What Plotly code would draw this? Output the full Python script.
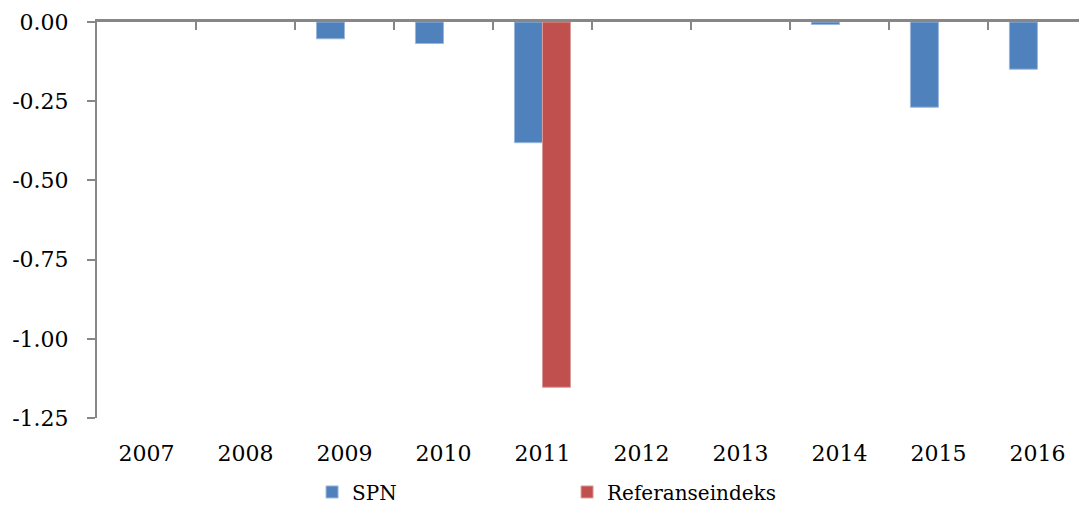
import plotly.graph_objects as go

years = ["2007", "2008", "2009", "2010", "2011", "2012", "2013", "2014", "2015", "2016"]
spn = [None, None, -0.053, -0.068, -0.381, None, None, -0.008, -0.269, -0.149]
ref = [None, None, None, None, -1.153, None, None, None, None, None]
ytick_vals = [0, -0.25, -0.5, -0.75, -1.0, -1.25]
ytick_text = ["0.00", "-0.25", "-0.50", "-0.75", "-1.00", "-1.25"]

FONT = "DejaVu Serif"
GRAY = "#878787"

fig = go.Figure()
fig.add_trace(go.Bar(x=years, y=spn, name="SPN",
                     marker=dict(color="#4F81BD", line=dict(color="#9BB7DA", width=1))))
fig.add_trace(go.Bar(x=years, y=ref, name="Referanseindeks",
                     marker=dict(color="#C0504D", line=dict(color="#DA9C9A", width=1))))
# helper trace for the top category axis (line at zero with boundary ticks)
fig.add_trace(go.Bar(x=years, y=[None] * len(years), xaxis="x2", showlegend=False,
                     hoverinfo="skip"))

fig.update_layout(
    width=1079, height=512,
    margin=dict(l=97, r=0, t=22, b=94, autoexpand=False),
    paper_bgcolor="white", plot_bgcolor="white",
    font=dict(family=FONT, color="#000000", size=22),
    barmode="group", bargap=0.434, bargroupgap=0,
    xaxis=dict(type="category", categoryarray=years, range=[-0.5, 9.42],
               showline=False, showgrid=False, zeroline=False, ticks="",
               tickfont=dict(size=22), ticklabelstandoff=20, automargin=False),
    xaxis2=dict(type="category", overlaying="x", matches="x", anchor="y", side="top",
                showline=True, linecolor=GRAY, linewidth=2.5,
                ticks="inside", tickson="boundaries", ticklen=8, tickwidth=2, tickcolor=GRAY,
                showticklabels=False, showgrid=False, zeroline=False, layer="above traces",
                automargin=False),
    yaxis=dict(range=[-1.25, 0], tickvals=ytick_vals, ticktext=ytick_text,
               showline=True, linecolor=GRAY, linewidth=2,
               ticks="outside", ticklen=8, tickwidth=2, tickcolor=GRAY,
               showgrid=False, zeroline=False, tickfont=dict(size=22),
               ticklabelstandoff=14, automargin=False),
    legend=dict(orientation="h", x=0.219, xanchor="left", y=-0.236, yanchor="bottom",
                entrywidth=210, entrywidthmode="pixels", font=dict(size=20),
                bgcolor="rgba(0,0,0,0)", borderwidth=0),
)

fig.write_html("out.html", config={"displayModeBar": False},
               post_script="document.body.style.margin='0';document.body.style.overflow='hidden';")
